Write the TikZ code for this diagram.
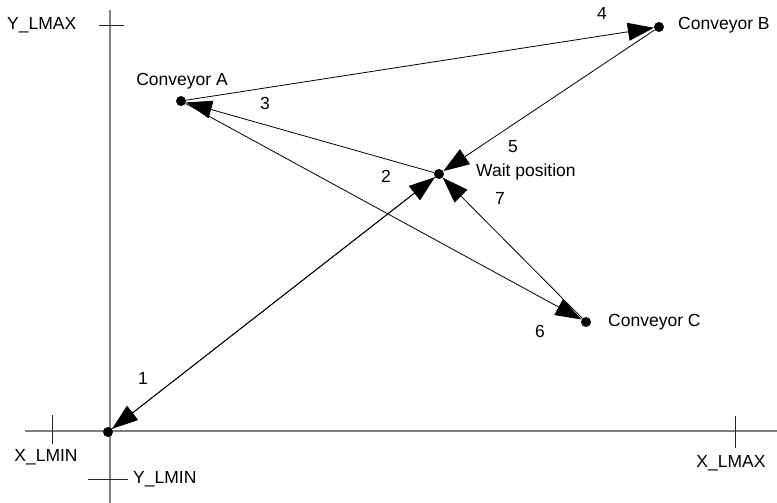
\documentclass[tikz,border=0pt]{standalone}
\usepackage{fontspec}
\setmainfont{Liberation Sans}
\usetikzlibrary{arrows.meta}
\begin{document}
\begin{tikzpicture}[x=1pt,y=-1pt,
    station/.style={circle,fill=black,inner sep=0pt,minimum size=10pt},
    lbl/.style={font=\fontsize{17.5}{20}\selectfont,inner sep=0pt},
    axis/.style={draw=black!50,line width=2pt},
    tickmark/.style={draw=black!85,line width=1pt},
    move/.style={draw=black,line width=0.8pt,
      -{Triangle[length=26pt,width=18pt,fill=black]}}
]
\useasboundingbox (0,0) rectangle (777,503);

% axes
\coordinate (xl) at (25,431);
\coordinate (xr) at (777,431);
\coordinate (yt) at (110,10);
\coordinate (yb) at (110,503);
\draw[axis] (xl) -- (xr);
\draw[axis] (yt) -- (yb);

% limit ticks
\draw[tickmark] (52,415) -- (52,444);
\draw[tickmark] (735,416) -- (735,448);
\draw[tickmark] (99,26) -- (124,26);
\draw[tickmark] (88,479) -- (128,479);

\node[lbl]            (xmin) at (46,457)  {X\_LMIN};
\node[lbl]            (xmax) at (731,463) {X\_LMAX};
\node[lbl,anchor=west] (ymax) at (7,25)   {Y\_LMAX};
\node[lbl,anchor=west] (ymin) at (133,479) {Y\_LMIN};

% stations
\node[station] (org)   at (108,432) {};
\node[station] (convA) at (181,101) {};
\node[station] (convB) at (659,27)  {};
\node[station] (wait)  at (439,174) {};
\node[station] (convC) at (586,322) {};

\node[lbl]             (la) at (182,81)  {Conveyor A};
\node[lbl,anchor=west] (lb) at (678,25)  {Conveyor B};
\node[lbl,anchor=west] (lw) at (476,172) {Wait position};
\node[lbl,anchor=west] (lc) at (608,322) {Conveyor C};

% moves
\draw[move] (wait)  -- (org);
\draw[move] (org)   -- (wait);
\draw[move] (wait)  -- (convA);
\draw[move] (convA) -- (convB);
\draw[move] (convB) -- (wait);
\draw[move] (convA) -- (convC);
\draw[move] (convC) -- (wait);

\node[lbl] (n1) at (143,378) {1};
\node[lbl] (n2) at (386,176) {2};
\node[lbl] (n3) at (265,103) {3};
\node[lbl] (n4) at (602,13)  {4};
\node[lbl] (n5) at (513,147) {5};
\node[lbl] (n6) at (540,331) {6};
\node[lbl] (n7) at (500,198) {7};
\end{tikzpicture}
\end{document}
